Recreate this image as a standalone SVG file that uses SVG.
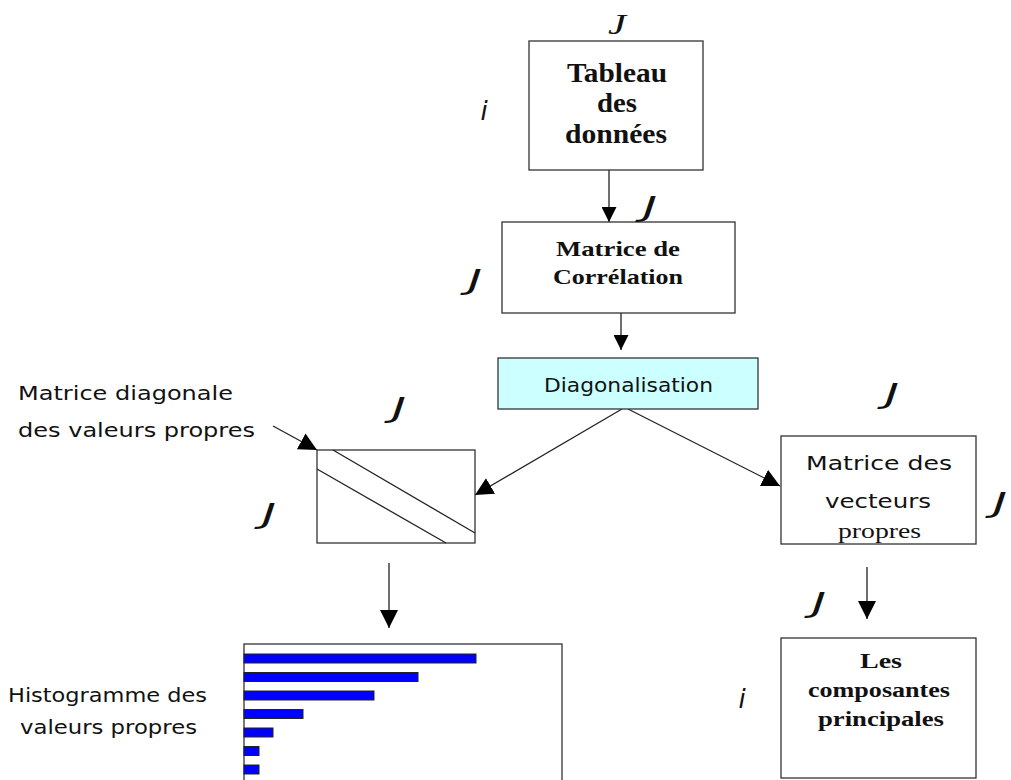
<svg xmlns="http://www.w3.org/2000/svg" width="1011" height="780" viewBox="0 0 1011 780">
<style>
.box{fill:#fff;stroke:#333;stroke-width:1.3}
.bold{font-family:"Liberation Serif",serif;font-weight:bold;fill:#111;text-anchor:middle}
.comic{font-family:"DejaVu Sans",sans-serif;fill:#111;font-size:19px}
.J{font-family:"DejaVu Sans",sans-serif;font-style:oblique;font-size:26px;fill:#111;text-anchor:middle}
.ln{stroke:#222;stroke-width:1.3;fill:none}
.bar{fill:#0000ff;stroke:#222;stroke-width:1}
</style>
<defs>
<marker id="ah" viewBox="0 0 10 10" refX="10" refY="5" markerWidth="15" markerHeight="15" markerUnits="userSpaceOnUse" orient="auto"><path d="M0,0 L10,5 L0,10 z" fill="#000"/></marker>
<marker id="ah2" viewBox="0 0 10 10" refX="10" refY="5" markerWidth="18" markerHeight="18" markerUnits="userSpaceOnUse" orient="auto"><path d="M0,0 L10,5 L0,10 z" fill="#000"/></marker>
</defs>

<g id="connectors">
<line class="ln" x1="609" y1="170" x2="609" y2="222" marker-end="url(#ah)"/>
<line class="ln" x1="621" y1="313" x2="621" y2="350" marker-end="url(#ah)"/>
<line class="ln" x1="622" y1="409" x2="475" y2="495" marker-end="url(#ah2)"/>
<line class="ln" x1="628" y1="409" x2="780" y2="486" marker-end="url(#ah2)"/>
<line class="ln" x1="273" y1="426" x2="317" y2="450" marker-end="url(#ah2)"/>
<line class="ln" x1="389" y1="563" x2="389" y2="628" marker-end="url(#ah2)"/>
<line class="ln" x1="867" y1="567" x2="867" y2="619" marker-end="url(#ah2)"/>
</g>

<g id="tableau">
<rect class="box" x="529" y="41" width="174" height="129"/>
<text class="bold" x="617" y="82" font-size="27" textLength="100" lengthAdjust="spacingAndGlyphs">Tableau</text>
<text class="bold" x="617" y="112" font-size="27" textLength="40" lengthAdjust="spacingAndGlyphs">des</text>
<text class="bold" x="616" y="143" font-size="27" textLength="102" lengthAdjust="spacingAndGlyphs">données</text>
</g>

<g id="correlation">
<rect class="box" x="502" y="222" width="233" height="91"/>
<text class="bold" x="618" y="256" font-size="21" textLength="124" lengthAdjust="spacingAndGlyphs">Matrice de</text>
<text class="bold" x="618" y="284" font-size="21" textLength="130" lengthAdjust="spacingAndGlyphs">Corrélation</text>
</g>

<g id="diagonalisation">
<rect x="498" y="358" width="260" height="51" fill="#ccffff" stroke="#333" stroke-width="1.3"/>
<text class="comic" x="544" y="392" textLength="169" lengthAdjust="spacingAndGlyphs">Diagonalisation</text>
</g>

<g id="diag-matrix">
<rect class="box" x="317" y="450" width="158" height="93"/>
<line class="ln" x1="333" y1="450" x2="475" y2="533"/>
<line class="ln" x1="317" y1="469" x2="446" y2="543"/>
</g>

<g id="diag-label">
<text class="comic" x="18" y="400" textLength="215" lengthAdjust="spacingAndGlyphs">Matrice diagonale</text>
<text class="comic" x="18" y="437" textLength="237" lengthAdjust="spacingAndGlyphs">des valeurs propres</text>
</g>

<g id="vecteurs">
<rect class="box" x="781" y="436" width="195" height="108"/>
<text class="comic" x="806" y="470" textLength="146" lengthAdjust="spacingAndGlyphs">Matrice des</text>
<text class="comic" x="825" y="508" textLength="106" lengthAdjust="spacingAndGlyphs">vecteurs</text>
<text x="838" y="538" font-family="Liberation Serif, serif" font-size="21" fill="#111" textLength="83" lengthAdjust="spacingAndGlyphs">propres</text>
</g>

<g id="histogramme">
<rect class="box" x="244" y="644" width="318" height="150"/>
<rect class="bar" x="244" y="654" width="232" height="9"/>
<rect class="bar" x="244" y="672.5" width="174" height="9"/>
<rect class="bar" x="244" y="691" width="130" height="9"/>
<rect class="bar" x="244" y="709.5" width="59" height="9"/>
<rect class="bar" x="244" y="728" width="29" height="9"/>
<rect class="bar" x="244" y="746.5" width="15" height="9"/>
<rect class="bar" x="244" y="765" width="15" height="9"/>
</g>

<g id="histo-label">
<text class="comic" x="8" y="702" textLength="199" lengthAdjust="spacingAndGlyphs">Histogramme des</text>
<text class="comic" x="20" y="734" textLength="177" lengthAdjust="spacingAndGlyphs">valeurs propres</text>
</g>

<g id="composantes">
<rect class="box" x="781" y="638" width="195" height="140"/>
<text class="bold" x="881" y="668" font-size="20" textLength="42" lengthAdjust="spacingAndGlyphs">Les</text>
<text class="bold" x="879" y="697" font-size="20" textLength="142" lengthAdjust="spacingAndGlyphs">composantes</text>
<text class="bold" x="881" y="726" font-size="20" textLength="126" lengthAdjust="spacingAndGlyphs">principales</text>
</g>

<g id="indices">
<text x="617" y="34" font-family="Liberation Serif, serif" font-style="italic" font-size="30" fill="#111" text-anchor="middle" textLength="18" lengthAdjust="spacingAndGlyphs">J</text>
<text class="J" x="650" y="216" textLength="14" lengthAdjust="spacingAndGlyphs">J</text>
<text class="J" x="475" y="289" textLength="14" lengthAdjust="spacingAndGlyphs">J</text>
<text class="J" x="399" y="417" textLength="14" lengthAdjust="spacingAndGlyphs">J</text>
<text class="J" x="269" y="523" textLength="14" lengthAdjust="spacingAndGlyphs">J</text>
<text class="J" x="892" y="403" textLength="14" lengthAdjust="spacingAndGlyphs">J</text>
<text class="J" x="1000" y="512" textLength="14" lengthAdjust="spacingAndGlyphs">J</text>
<text class="J" x="819" y="612" textLength="14" lengthAdjust="spacingAndGlyphs">J</text>
<text x="484" y="120" font-family="DejaVu Sans, sans-serif" font-style="oblique" font-size="26" fill="#111" text-anchor="middle">i</text>
<text x="742" y="708" font-family="DejaVu Sans, sans-serif" font-style="oblique" font-size="26" fill="#111" text-anchor="middle">i</text>
</g>
</svg>
